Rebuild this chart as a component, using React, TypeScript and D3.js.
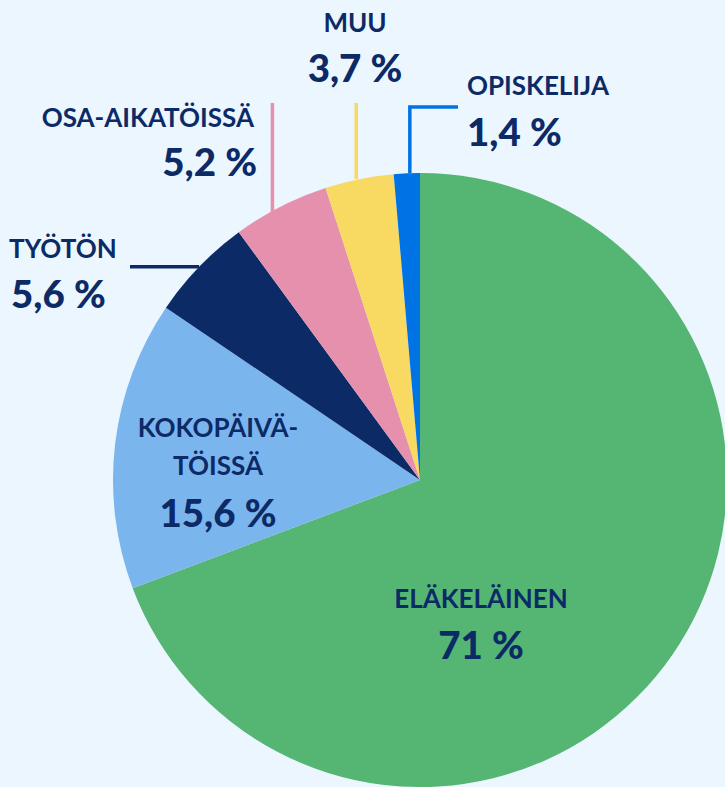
import { useEffect, useRef } from "react";
import * as d3 from "d3";

const categories = ["ELÄKELÄINEN", "KOKOPÄIVÄ-TÖISSÄ", "TYÖTÖN", "OSA-AIKATÖISSÄ", "MUU", "OPISKELIJA"];
const values = [71, 15.6, 5.6, 5.2, 3.7, 1.4];
const valueLabels = ["71 %", "15,6 %", "5,6 %", "5,2 %", "3,7 %", "1,4 %"];
const colors = ["#55B573", "#7BB5EE", "#0C2A66", "#E590AD", "#F8D962", "#0073E4"];

const W = 725;
const H = 787;
const NAVY = "#0C2A66";
const FONT = "Lato, 'Open Sans', sans-serif";

export default function App() {
  const ref = useRef<SVGSVGElement>(null);

  useEffect(() => {
    if (!ref.current) return;
    const svg = d3.select(ref.current);
    svg.selectAll("*").remove();

    const cx = 420;
    const cy = 480;
    const r = 307;

    svg.append("rect").attr("width", W).attr("height", H).attr("fill", "#ECF6FF");

    const pie = d3.pie<number>().sort(null).value((d) => d);
    const arcs = pie(values);
    const arc = d3.arc<d3.PieArcDatum<number>>().innerRadius(0).outerRadius(r);

    const g = svg.append("g").attr("transform", `translate(${cx},${cy})`);
    g.selectAll("path")
      .data(arcs)
      .join("path")
      .attr("d", arc)
      .attr("fill", (_, i) => colors[i]);

    // edge point at a slice's mid angle
    const edge = (a: d3.PieArcDatum<number>) => {
      const m = (a.startAngle + a.endAngle) / 2;
      return [cx + r * Math.sin(m), cy - r * Math.cos(m)];
    };

    const lines = svg.append("g").attr("fill", "none").attr("stroke-width", 3.5);

    // Työtön: horizontal leader
    const [tx, ty] = edge(arcs[2]);
    lines.append("path").attr("d", `M${tx},${ty}H130`).attr("stroke", colors[2]);

    // Osa-aikatöissä + Muu: vertical leaders
    const [ox, oy] = edge(arcs[3]);
    lines.append("path").attr("d", `M${ox - 8},${oy + 6}V103`).attr("stroke", colors[3]);
    const [mx, my] = edge(arcs[4]);
    lines.append("path").attr("d", `M${mx - 3},${my}V103`).attr("stroke", colors[4]);

    // Opiskelija: elbow leader
    const [px, py] = edge(arcs[5]);
    lines.append("path").attr("d", `M${px + 3},${py}V107H458`).attr("stroke", colors[5]);

    const label = (x: number, y: number, text: string, anchor: string, big: boolean) =>
      svg.append("text")
        .attr("x", x)
        .attr("y", y)
        .attr("text-anchor", anchor)
        .attr("fill", NAVY)
        .attr("font-family", FONT)
        .attr("font-weight", big ? 900 : 700)
        .attr("font-size", big ? 38.5 : 26)
        .text(text);

    label(481, 608, categories[0], "middle", false);
    label(481, 659, valueLabels[0], "middle", true);

    const [k1, k2] = categories[1].split("-");
    label(218, 437, k1 + "-", "middle", false);
    label(218, 475, k2, "middle", false);
    label(218, 527, valueLabels[1], "middle", true);

    label(9, 258, categories[2], "start", false);
    label(11, 308, valueLabels[2], "start", true);

    label(254, 127, categories[3], "end", false);
    label(257, 176, valueLabels[3], "end", true);

    label(355, 32, categories[4], "middle", false);
    label(355, 82, valueLabels[4], "middle", true);

    label(467, 95, categories[5], "start", false);
    label(467, 146, valueLabels[5], "start", true);
  }, []);

  return (
    <svg
      ref={ref}
      width={W}
      height={H}
      style={{ position: "absolute", left: 0, top: 0, display: "block" }}
    />
  );
}
